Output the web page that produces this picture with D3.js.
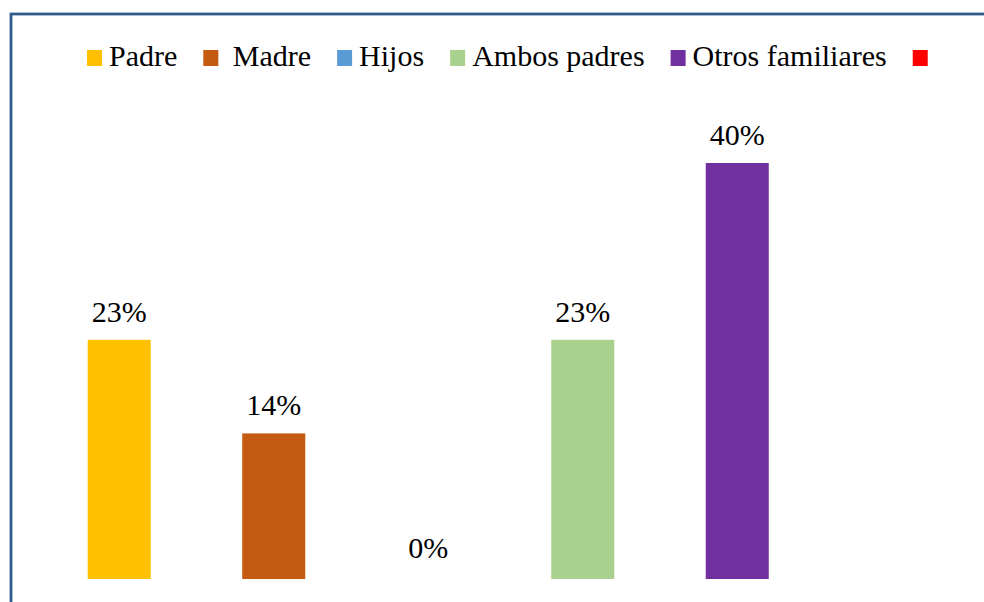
<!DOCTYPE html>
<html><head><meta charset="utf-8"><script src="https://cdn.jsdelivr.net/npm/d3@7"></script></head>
<body style="margin:0">
<svg id="c" width="984" height="602"></svg>
<script>
const categories = ["Padre", "Madre", "Hijos", "Ambos padres", "Otros familiares", ""];
const legendLabels = ["Padre", " Madre", "Hijos", "Ambos padres", "Otros familiares", ""];
const values = [23, 14, 0, 23, 40, null];
const colors = ["#FFC000", "#C55A11", "#5B9BD5", "#A9D18E", "#7030A0", "#FF0000"];

const FONT = "'Liberation Serif', Tinos, 'Times New Roman', serif";
const svg = d3.select("#c");
const W = 984, H = 602;

svg.append("rect")
  .attr("x", 11).attr("y", 14)
  .attr("width", W + 20).attr("height", H + 20)
  .attr("fill", "none")
  .attr("stroke", "#2F5C8C")
  .attr("stroke-width", 2.8);

const x = d3.scaleBand()
  .domain(categories.map((c, i) => i))
  .range([42, 969])
  .paddingInner(0.592)
  .paddingOuter(0.296);

const y = d3.scaleLinear().domain([0, 40]).range([579, 163]);

categories.forEach((c, i) => {
  const v = values[i];
  if (v === null) return;
  if (v > 0) {
    svg.append("rect")
      .attr("x", x(i))
      .attr("y", y(v))
      .attr("width", x.bandwidth())
      .attr("height", y(0) - y(v))
      .attr("fill", colors[i]);
  }
  svg.append("text")
    .attr("x", x(i) + x.bandwidth() / 2)
    .attr("y", y(v) - (v === 0 ? 21 : 18))
    .attr("text-anchor", "middle")
    .attr("font-size", 30)
    .attr("font-family", FONT)
    .attr("fill", "#000")
    .text(v + "%");
});

let lx = 87;
legendLabels.forEach((lab, i) => {
  svg.append("rect")
    .attr("x", lx).attr("y", 50)
    .attr("width", 15).attr("height", 16)
    .attr("fill", colors[i]);
  lx += 15 + 7;
  if (lab) {
    const t = svg.append("text")
      .attr("x", lx).attr("y", 66)
      .attr("font-size", 30)
      .attr("font-family", FONT)
      .attr("fill", "#000")
      .attr("xml:space", "preserve")
      .text(lab);
    lx += t.node().getComputedTextLength() + 26;
  }
});
</script>
</body></html>
